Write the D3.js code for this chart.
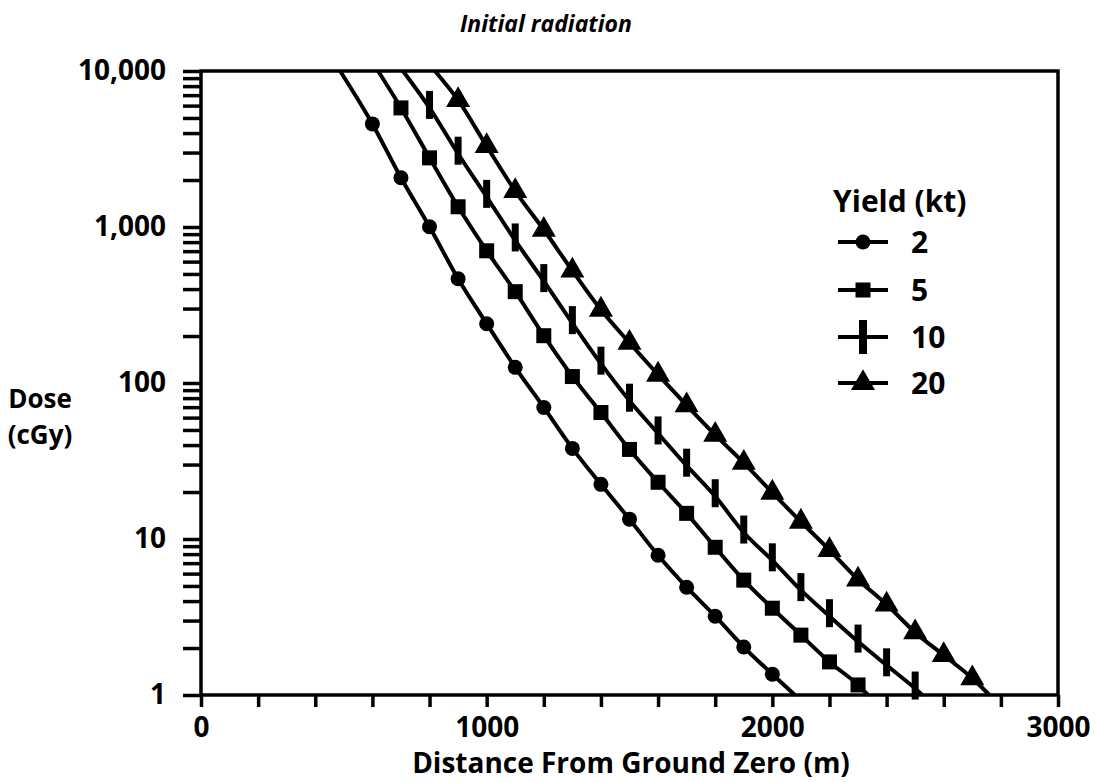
<!DOCTYPE html>
<html>
<head>
<meta charset="utf-8">
<script src="https://cdn.jsdelivr.net/npm/d3@7"></script>
<style>
  body { margin: 0; background: #fff; }
  svg { font-family: "Open Sans", sans-serif; font-weight: 700; }
</style>
</head>
<body>
<svg width="1097" height="782"></svg>
<script>
var yields = ["2", "5", "10", "20"];
var shapes = ["circle", "square", "bar", "triangle"];

// first and last entries are where the curve meets the frame (no marker)
var dist2 = [487, 600, 700, 800, 900, 1000, 1100, 1200, 1300, 1400, 1500, 1600, 1700, 1800, 1900, 2000, 2079];
var dose2 = [10000, 4580, 2070, 1004, 466, 240, 126, 69.7, 38.1, 22.4, 13.4, 7.87, 4.91, 3.2, 2.03, 1.36, 1];

var dist5 = [620, 700, 800, 900, 1000, 1100, 1200, 1300, 1400, 1500, 1600, 1700, 1800, 1900, 2000, 2100, 2200, 2300, 2335];
var dose5 = [10000, 5800, 2775, 1348, 704, 385, 201, 110, 64.7, 37.5, 23.1, 14.6, 8.85, 5.45, 3.6, 2.42, 1.63, 1.16, 1];

var dist10 = [707, 800, 900, 1000, 1100, 1200, 1300, 1400, 1500, 1600, 1700, 1800, 1900, 2000, 2100, 2200, 2300, 2400, 2500, 2525];
var dose10 = [10000, 5800, 2950, 1560, 820, 450, 242, 133, 77, 47.5, 29.5, 18.8, 11, 7.3, 4.7, 3.2, 2.2, 1.55, 1.1, 1];

var dist20 = [819, 900, 1000, 1100, 1200, 1300, 1400, 1500, 1600, 1700, 1800, 1900, 2000, 2100, 2200, 2300, 2400, 2500, 2600, 2700, 2760];
var dose20 = [10000, 6500, 3300, 1700, 960, 525, 295, 181, 113, 72, 46.5, 30.8, 19.8, 12.9, 8.5, 5.5, 3.8, 2.52, 1.8, 1.28, 1];

var xTicks = [0, 200, 400, 600, 800, 1000, 1200, 1400, 1600, 1800, 2000, 2200, 2400, 2600, 2800, 3000];
var xLabels = [0, 1000, 2000, 3000];
var yLabels = [1, 10, 100, 1000, 10000];

var series = [
  {name: yields[0], shape: shapes[0], dist: dist2, dose: dose2},
  {name: yields[1], shape: shapes[1], dist: dist5, dose: dose5},
  {name: yields[2], shape: shapes[2], dist: dist10, dose: dose10},
  {name: yields[3], shape: shapes[3], dist: dist20, dose: dose20}
];
series.forEach(function(s) {
  s.points = s.dist.map(function(d, i) { return {d: d, v: s.dose[i]}; });
});

var svg = d3.select("svg");

var x = d3.scaleLinear().domain([0, 3000]).range([201, 1058]);
var y = d3.scaleLog().domain([1, 10000]).range([695, 71]);

var yTicks = [];
[1, 10, 100, 1000].forEach(function(p) {
  for (var k = 1; k < 10; k++) yTicks.push(p * k);
});
yTicks.push(10000);

// axes
var xAxis = svg.append("g")
  .attr("transform", "translate(0," + y(1) + ")")
  .call(d3.axisBottom(x)
    .tickValues(xTicks)
    .tickSize(12)
    .tickPadding(10)
    .tickFormat(function(d) { return xLabels.indexOf(d) >= 0 ? d : ""; }));

var yAxis = svg.append("g")
  .attr("transform", "translate(" + x(0) + ",0)")
  .call(d3.axisLeft(y)
    .tickValues(yTicks)
    .tickSize(18)
    .tickPadding(17)
    .tickFormat(function(d) { return yLabels.indexOf(d) >= 0 ? d3.format(",")(d) : ""; }));

[xAxis, yAxis].forEach(function(g) {
  g.select(".domain").remove();
  g.selectAll(".tick line").attr("stroke", "#000").attr("stroke-width", 3.5);
  g.selectAll(".tick text")
    .attr("fill", "#000")
    .style("font-size", "28px")
    .style("font-weight", 700)
    .style("font-family", "'Open Sans', sans-serif");
});

// frame
svg.append("rect")
  .attr("x", x(0))
  .attr("y", y(10000))
  .attr("width", x(3000) - x(0))
  .attr("height", y(1) - y(10000))
  .attr("fill", "none")
  .attr("stroke", "#000")
  .attr("stroke-width", 3.5);

var line = d3.line()
  .x(function(d) { return x(d.d); })
  .y(function(d) { return y(d.v); })
  .curve(d3.curveMonotoneX);

function drawMarker(g, shape) {
  if (shape === "circle") {
    g.append("circle").attr("r", 7.5);
  } else if (shape === "square") {
    g.append("rect").attr("x", -7.5).attr("y", -7.5).attr("width", 15).attr("height", 15);
  } else if (shape === "bar") {
    g.append("rect").attr("x", -3.5).attr("y", -17).attr("width", 7).attr("height", 28);
  } else {
    g.append("path").attr("d", d3.symbol().type(d3.symbolTriangle).size(250)());
  }
}

series.forEach(function(s) {
  svg.append("path")
    .datum(s.points)
    .attr("fill", "none")
    .attr("stroke", "#000")
    .attr("stroke-width", 4)
    .attr("d", line);

  svg.selectAll(null)
    .data(s.points.slice(1, -1))
    .enter()
    .append("g")
    .attr("fill", "#000")
    .attr("transform", function(d) { return "translate(" + x(d.d) + "," + y(d.v) + ")"; })
    .each(function() { drawMarker(d3.select(this), s.shape); });
});

// legend
var legend = svg.append("g").attr("transform", "translate(833,0)");
legend.append("text")
  .attr("x", 0)
  .attr("y", 212)
  .style("font-size", "30px")
  .text("Yield (kt)");

var rowY = [242, 290, 337, 383];
series.forEach(function(s, i) {
  var row = legend.append("g").attr("transform", "translate(0," + rowY[i] + ")");
  row.append("line")
    .attr("x1", 5).attr("x2", 55)
    .attr("stroke", "#000").attr("stroke-width", 4);
  var m = row.append("g").attr("transform", "translate(30,0)").attr("fill", "#000");
  if (s.shape === "bar") {
    m.append("rect").attr("x", -4).attr("y", -17).attr("width", 8).attr("height", 34);
  } else {
    drawMarker(m, s.shape);
  }
  row.append("text")
    .attr("x", 78)
    .attr("y", 11)
    .style("font-size", "30px")
    .text(s.name);
});

// titles
svg.append("text")
  .attr("x", 460)
  .attr("y", 32)
  .style("font-size", "23px")
  .style("font-style", "italic")
  .text("Initial radiation");

svg.append("text")
  .attr("x", 631)
  .attr("y", 773)
  .attr("text-anchor", "middle")
  .style("font-size", "28px")
  .text("Distance From Ground Zero (m)");

svg.append("text")
  .attr("x", 40)
  .attr("y", 408)
  .attr("text-anchor", "middle")
  .style("font-size", "26px")
  .text("Dose");
svg.append("text")
  .attr("x", 40)
  .attr("y", 444)
  .attr("text-anchor", "middle")
  .style("font-size", "26px")
  .text("(cGy)");
</script>
</body>
</html>
